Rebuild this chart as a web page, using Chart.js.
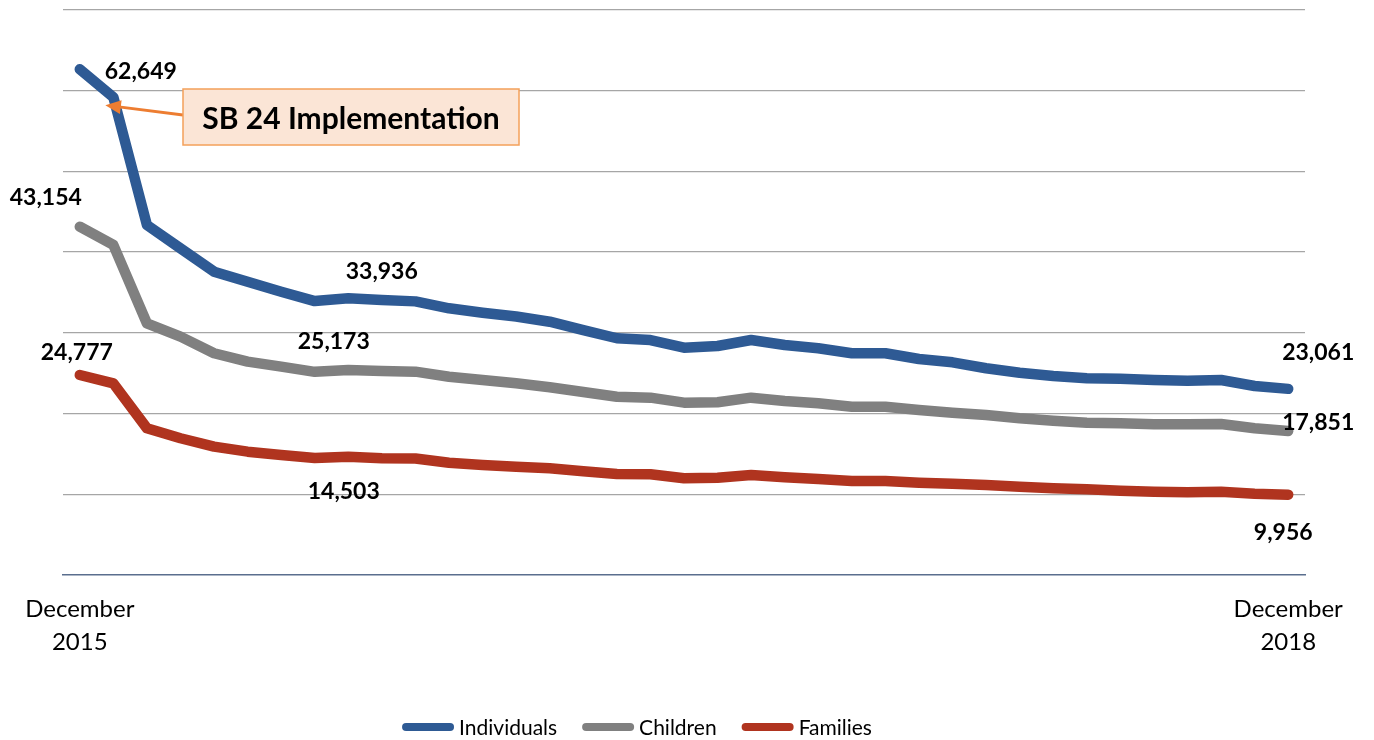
<!DOCTYPE html>
<html>
<head>
<meta charset="utf-8">
<script src="https://cdn.jsdelivr.net/npm/chart.js@4.4.1/dist/chart.umd.min.js"></script>
<style>
  html, body { margin: 0; padding: 0; background: #ffffff; }
  #wrap { width: 1374px; height: 740px; position: relative; }
</style>
</head>
<body>
<div id="wrap"><canvas id="c"></canvas></div>
<script>
// ---- data ----
const months = [
  "2015-12","2016-01","2016-02","2016-03","2016-04","2016-05","2016-06","2016-07","2016-08","2016-09","2016-10","2016-11","2016-12",
  "2017-01","2017-02","2017-03","2017-04","2017-05","2017-06","2017-07","2017-08","2017-09","2017-10","2017-11","2017-12",
  "2018-01","2018-02","2018-03","2018-04","2018-05","2018-06","2018-07","2018-08","2018-09","2018-10","2018-11","2018-12"
];
const tickLabels = { "2015-12": ["December", "2015"], "2018-12": ["December", "2018"] };
const individuals = [62649, 59200, 43360, 40470, 37580, 36340, 35100, 33936, 34280, 34070, 33900, 33040, 32500,
  32030, 31380, 30350, 29330, 29110, 28160, 28370, 29110, 28500, 28090, 27470, 27470,
  26760, 26350, 25610, 25060, 24660, 24370, 24320, 24160, 24070, 24160, 23420, 23061];
const children = [43154, 40890, 31180, 29530, 27470, 26430, 25810, 25173, 25400, 25280, 25190, 24570, 24160,
  23750, 23260, 22670, 22090, 21970, 21350, 21400, 21970, 21560, 21270, 20850, 20850,
  20440, 20100, 19820, 19410, 19120, 18870, 18800, 18670, 18670, 18710, 18180, 17851];
const families = [24777, 23750, 18180, 16940, 15900, 15280, 14870, 14503, 14660, 14460, 14440, 13910, 13630,
  13420, 13220, 12860, 12510, 12480, 11980, 12060, 12390, 12100, 11890, 11650, 11650,
  11440, 11320, 11150, 10940, 10740, 10620, 10440, 10320, 10250, 10320, 10080, 9956];
const seriesNames = ["Individuals", "Children", "Families"];
const annotationText = "SB 24 Implementation";
// labelled points: [dataset, index]
const labelledPoints = [[0,0],[1,0],[2,0],[0,7],[1,7],[2,7],[0,36],[1,36],[2,36]];

// ---- styles ----
const colors = ["#2E5A94", "#808080", "#B0341F"];
const labelOffsets = [[61,2],[-34,-29],[-3,-22],[67,-30],[19,-30],[29,34],[30,-36],[30,-8],[-5,38]];
const FONT = "Lato, 'Open Sans', sans-serif";

const dataLabelPlugin = {
  id: 'dataLabels',
  afterDatasetsDraw(chart) {
    const ctx = chart.ctx;
    ctx.save();
    ctx.font = "bold 23px " + FONT;
    ctx.fillStyle = "#000";
    ctx.textAlign = "center";
    ctx.textBaseline = "middle";
    labelledPoints.forEach(([ds, i], k) => {
      const pt = chart.getDatasetMeta(ds).data[i];
      const v = chart.data.datasets[ds].data[i];
      ctx.fillText(v.toLocaleString('en-US'), pt.x + labelOffsets[k][0], pt.y + labelOffsets[k][1]);
    });
    ctx.restore();
  }
};

const annotationPlugin = {
  id: 'sbAnnotation',
  afterDatasetsDraw(chart) {
    const ctx = chart.ctx;
    const pt = chart.getDatasetMeta(0).data[1];
    const bx = 183, by = 89, bw = 336, bh = 56;
    ctx.save();
    // arrow
    const sx = bx, sy = by + 26;
    const tx = pt.x - 8, ty = pt.y + 8;
    const ang = Math.atan2(ty - sy, tx - sx);
    const head = 17;
    ctx.strokeStyle = "#ED7D31";
    ctx.fillStyle = "#ED7D31";
    ctx.lineWidth = 3;
    ctx.beginPath();
    ctx.moveTo(sx, sy);
    ctx.lineTo(tx - Math.cos(ang) * head * 0.8, ty - Math.sin(ang) * head * 0.8);
    ctx.stroke();
    ctx.beginPath();
    ctx.moveTo(tx, ty);
    ctx.lineTo(tx - Math.cos(ang - 0.42) * head, ty - Math.sin(ang - 0.42) * head);
    ctx.lineTo(tx - Math.cos(ang + 0.42) * head, ty - Math.sin(ang + 0.42) * head);
    ctx.closePath();
    ctx.fill();
    // box
    ctx.fillStyle = "#FBE5D6";
    ctx.fillRect(bx, by, bw, bh);
    ctx.strokeStyle = "#F4A05A";
    ctx.lineWidth = 1.5;
    ctx.strokeRect(bx, by, bw, bh);
    ctx.fillStyle = "#000";
    ctx.font = "bold 30px " + FONT;
    ctx.textAlign = "center";
    ctx.textBaseline = "middle";
    ctx.fillText(annotationText, bx + bw / 2, by + bh / 2 + 2);
    ctx.restore();
  }
};

const legendPlugin = {
  id: 'customLegend',
  afterDraw(chart) {
    const ctx = chart.ctx;
    ctx.save();
    ctx.font = "21px " + FONT;
    ctx.textBaseline = "middle";
    const sw = 52, gap = 5, spacing = 25, y = 727;
    const items = chart.data.datasets.map(d => ({ label: d.label, color: d.borderColor, w: ctx.measureText(d.label).width }));
    const total = items.reduce((s, it) => s + sw + gap + it.w, 0) + spacing * (items.length - 1);
    let x = 637 - total / 2;
    items.forEach(it => {
      ctx.strokeStyle = it.color;
      ctx.lineWidth = 8;
      ctx.lineCap = "round";
      ctx.beginPath();
      ctx.moveTo(x + 4, y);
      ctx.lineTo(x + sw - 4, y);
      ctx.stroke();
      ctx.fillStyle = "#000";
      ctx.fillText(it.label, x + sw + gap, y + 1);
      x += sw + gap + it.w + spacing;
    });
    ctx.restore();
  }
};

const mk = (label, data, color) => ({
  label, data,
  borderColor: color, backgroundColor: color,
  borderWidth: 10.5, borderCapStyle: 'round', borderJoinStyle: 'round',
  pointRadius: 0, pointHoverRadius: 0, tension: 0, fill: false
});

new Chart(document.getElementById('c'), {
  type: 'line',
  data: {
    labels: months,
    datasets: [
      mk(seriesNames[0], individuals, colors[0]),
      mk(seriesNames[1], children, colors[1]),
      mk(seriesNames[2], families, colors[2])
    ]
  },
  options: {
    responsive: true,
    maintainAspectRatio: false,
    devicePixelRatio: 1,
    animation: false,
    layout: { padding: { top: 10, right: 69, left: 0, bottom: 0 } },
    plugins: { legend: { display: false }, tooltip: { enabled: false } },
    scales: {
      x: {
        offset: true,
        grid: { display: false, drawTicks: false },
        border: { display: true, color: "#5A6E8E", width: 1.5 },
        ticks: {
          autoSkip: false, maxRotation: 0, padding: 18,
          color: "#000",
          font: { family: FONT, size: 24, lineHeight: 1.375 },
          callback(value) { const m = this.getLabelForValue(value); return tickLabels[m] || ''; }
        },
        afterFit(scale) { scale.height = 165; }
      },
      y: {
        min: 0, max: 70000,
        ticks: { display: false, stepSize: 10000 },
        border: { display: false },
        grid: {
          drawTicks: false,
          color: (c) => c.tick && c.tick.value === 0 ? 'rgba(0,0,0,0)' : '#A6A6A6',
          lineWidth: 1.3
        },
        afterFit(scale) { scale.width = 63; }
      }
    }
  },
  plugins: [dataLabelPlugin, annotationPlugin, legendPlugin]
});
</script>
</body>
</html>
